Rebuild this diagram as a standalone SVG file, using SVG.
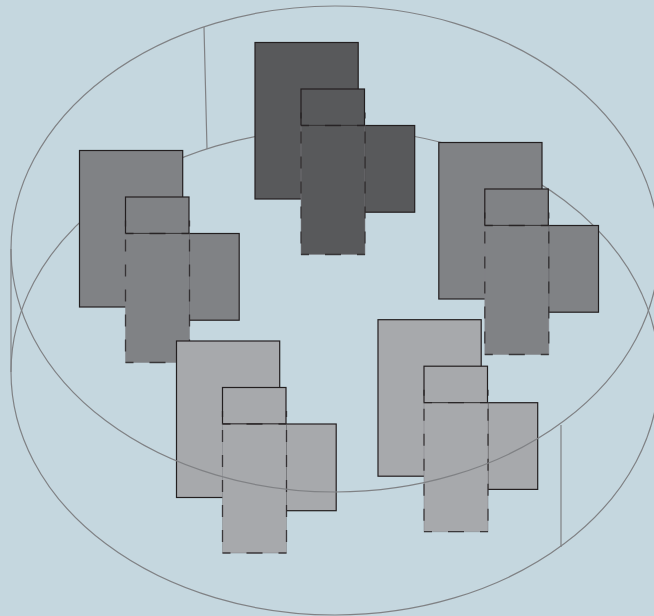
<svg xmlns="http://www.w3.org/2000/svg" width="654" height="616" viewBox="0 0 654 616">
<style>
.ring{fill:none;stroke:#808285;stroke-width:1.2}
.s{stroke:#231f20;stroke-width:1.2}
.edge{fill:none;stroke:#808285;stroke-width:1;stroke-opacity:.5}
.dh{fill:none;stroke:#231f20;stroke-width:1.3;stroke-opacity:.8;stroke-dasharray:16 16;stroke-dashoffset:8}
.dv{fill:none;stroke:#231f20;stroke-width:1.3;stroke-opacity:.8;stroke-dasharray:12 13;stroke-dashoffset:6}
.k{stroke:none}
.top{fill:none;stroke:#231f20;stroke-width:.8;stroke-opacity:.8}
.dark{fill:#58595b}.mid{fill:#808285}.light{fill:#a7a9ac}
</style>
<defs>
<g id="unit">
<rect class="s" x="0" y="0" width="103.200" height="156.500"/>
<rect class="s" x="46" y="46.500" width="63.500" height="36.500"/>
<rect class="s" x="109.700" y="83" width="50" height="86.700"/>
<rect class="k" x="46" y="83" width="64" height="129"/>
<rect class="edge" x="46" y="83" width="64" height="129"/>
<path class="top" d="M46 83H110"/>
<path class="dh" d="M46 83H110M46 212H110"/>
<path class="dv" d="M46 70V212M110 70V212"/>
</g>
</defs>
<rect width="654" height="616" fill="#c5d7df"/>
<g id="connectors">
<ellipse class="ring" cx="335" cy="372" rx="324" ry="243"/>
<path class="ring" d="M204 27L207 149M11 249V372M561 425V547"/>
</g>
<g id="node-top" class="dark"><use href="#unit" transform="translate(255 42.500)"/></g>
<g id="node-left" class="mid"><use href="#unit" transform="translate(79.500 150.500)"/></g>
<g id="node-right" class="mid"><use href="#unit" transform="translate(438.800 142.500)"/></g>
<g id="node-bottom-left" class="light"><use href="#unit" transform="translate(176.500 341)"/></g>
<g id="node-bottom-right" class="light"><use href="#unit" transform="translate(378 319.700)"/></g>
<g id="rim"><ellipse class="ring" cx="335" cy="249" rx="324" ry="243"/></g>
</svg>
